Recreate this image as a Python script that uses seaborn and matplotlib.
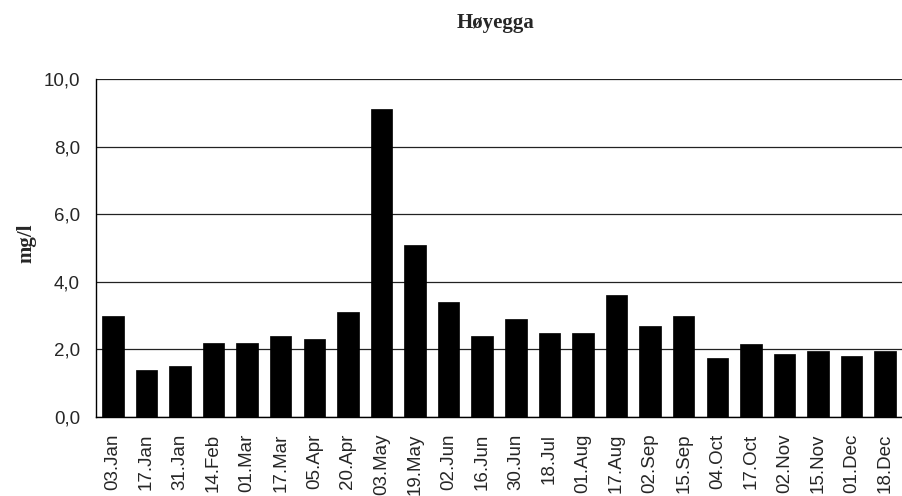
import matplotlib
matplotlib.use("Agg")
import matplotlib.pyplot as plt
import seaborn as sns
import pandas as pd
import numpy as np
from matplotlib.ticker import FixedLocator, FuncFormatter

dates = ["03.Jan", "17.Jan", "31.Jan", "14.Feb", "01.Mar", "17.Mar", "05.Apr", "20.Apr",
         "03.May", "19.May", "02.Jun", "16.Jun", "30.Jun", "18.Jul", "01.Aug", "17.Aug",
         "02.Sep", "15.Sep", "04.Oct", "17.Oct", "02.Nov", "15.Nov", "01.Dec", "18.Dec"]
values = [3.0, 1.4, 1.5, 2.2, 2.2, 2.4, 2.3, 3.1, 9.1, 5.1, 3.4, 2.4,
          2.9, 2.5, 2.5, 3.6, 2.7, 3.0, 1.75, 2.15, 1.85, 1.95, 1.8, 1.95]
yticks = [0, 2, 4, 6, 8, 10]
title = "Høyegga"
ylabel = "mg/l"

df = pd.DataFrame({"date": dates, "value": values})

sns.set_style("white")
plt.rcParams["font.family"] = ["Liberation Sans", "DejaVu Sans"]

fig = plt.figure(figsize=(9.03, 4.96), dpi=100)
ax = fig.add_axes([96/903, 1 - 417/496, 806/903, (417-79)/496])

sns.barplot(data=df, x="date", y="value", color="black", width=0.64,
            saturation=1, ax=ax, edgecolor="black", linewidth=0.5, zorder=3)

ax.set_xlim(-0.5, len(dates) - 0.5)
ax.set_ylim(0, 10)
ax.set_yticks(yticks)
ax.yaxis.set_major_formatter(FuncFormatter(lambda v, p: f"{v:.1f}".replace(".", ",")))
ax.yaxis.grid(True, color="#222222", linewidth=0.9, zorder=0)
ax.set_axisbelow(True)

for s in ["top", "right"]:
    ax.spines[s].set_visible(False)
for s in ["left", "bottom"]:
    ax.spines[s].set_color("black")
    ax.spines[s].set_linewidth(1.0)

ax.set_xticks(range(len(dates)))
ax.set_xticklabels(dates, rotation=90, fontsize=13.5)
ax.xaxis.set_minor_locator(FixedLocator(np.arange(-0.5, len(dates), 1.0)))
ax.tick_params(axis="x", which="major", length=0, pad=12)
ax.tick_params(axis="x", which="minor", length=7, width=0.9, direction="inout", color="black")
ax.tick_params(axis="y", which="major", length=7, width=0.9, direction="inout",
               color="black", labelsize=13.5, pad=8)

ax.set_xlabel("")
ax.set_ylabel("")
fig.text(26/903, 1 - 243/496, ylabel, rotation=90, ha="center", va="center", fontsize=15,
         fontweight="bold", family=["Liberation Serif", "DejaVu Serif"])
fig.text(496/903, 1 - 23/496, title, ha="center", va="center", fontsize=15,
         fontweight="bold", family=["Liberation Serif", "DejaVu Serif"])

fig.savefig("out.png", dpi=100)
